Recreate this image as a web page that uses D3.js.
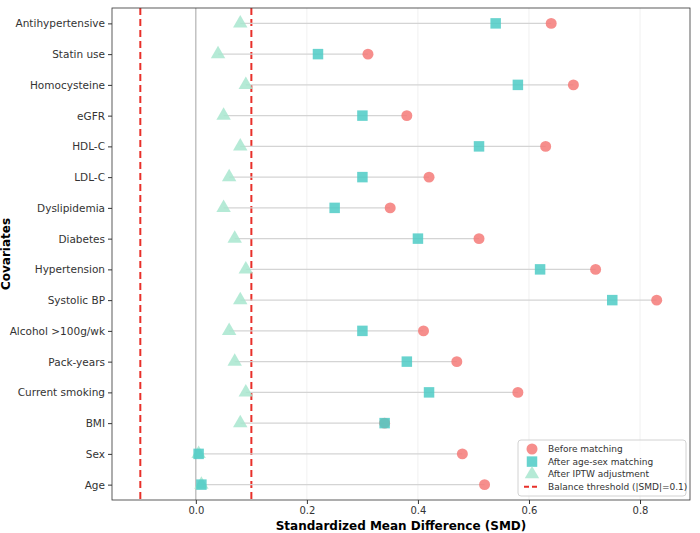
<!DOCTYPE html>
<html lang="en">
<head>
<meta charset="UTF-8">
<script src="https://d3js.org/d3.v7.min.js"></script>
<style>
  body { margin: 0; background: #fff; font-family: 'DejaVu Sans', sans-serif; }
</style>
</head>
<body>
<div id="chart"></div>
<script>
  // Data
  const covariates = ["Antihypertensive", "Statin use", "Homocysteine", "eGFR", "HDL-C", "LDL-C",
    "Dyslipidemia", "Diabetes", "Hypertension", "Systolic BP", "Alcohol >100g/wk", "Pack-years",
    "Current smoking", "BMI", "Sex", "Age"];
  const beforeMatching = [0.64, 0.31, 0.68, 0.38, 0.63, 0.42, 0.35, 0.51, 0.72, 0.83, 0.41, 0.47, 0.58, 0.34, 0.48, 0.52];
  const afterAgeSex   = [0.54, 0.22, 0.58, 0.30, 0.51, 0.30, 0.25, 0.40, 0.62, 0.75, 0.30, 0.38, 0.42, 0.34, 0.005, 0.01];
  const afterIPTW     = [0.08, 0.04, 0.09, 0.05, 0.08, 0.06, 0.05, 0.07, 0.09, 0.08, 0.06, 0.07, 0.09, 0.08, 0.005, 0.01];
  const xTicks = [0.0, 0.2, 0.4, 0.6, 0.8];
  const threshold = 0.1;

  const W = 700, H = 533;
  const margin = { top: 8, right: 10, bottom: 33, left: 112 };
  const width = W - margin.left - margin.right;
  const height = H - margin.top - margin.bottom;

  const svg = d3.select("#chart").append("svg").attr("width", W).attr("height", H);
  const g = svg.append("g").attr("transform", `translate(${margin.left},${margin.top})`);

  const x = d3.scaleLinear().domain([-0.151, 0.89]).range([0, width]);
  const y = d3.scalePoint().domain(covariates).range([0, height]).padding(0.5);

  // vertical grid
  g.selectAll(".grid").data(xTicks).enter().append("line")
    .attr("x1", d => x(d)).attr("x2", d => x(d)).attr("y1", 0).attr("y2", height)
    .attr("stroke", "#ececec").attr("stroke-width", 0.8);

  // zero line
  g.append("line").attr("x1", x(0)).attr("x2", x(0)).attr("y1", 0).attr("y2", height)
    .attr("stroke", "#aaa").attr("stroke-width", 1);

  // thresholds
  [-threshold, threshold].forEach(t => {
    g.append("line").attr("x1", x(t)).attr("x2", x(t)).attr("y1", 0).attr("y2", height)
      .attr("stroke", "#e8302a").attr("stroke-width", 2).attr("stroke-dasharray", "7,4");
  });

  // connecting lines
  covariates.forEach((c, i) => {
    const vals = [beforeMatching[i], afterAgeSex[i], afterIPTW[i]];
    g.append("line").attr("x1", x(d3.min(vals))).attr("x2", x(d3.max(vals)))
      .attr("y1", y(c)).attr("y2", y(c)).attr("stroke", "#d4d4d4").attr("stroke-width", 1.2);
  });

  const cBefore = "#f47a78", cSq = "#4ecbc6", cTri = "#a8e6cf";
  const circ = d3.symbol().type(d3.symbolCircle).size(95);
  const sq = d3.symbol().type(d3.symbolSquare).size(110);
  const tri = d3.symbol().type(d3.symbolTriangle).size(90);

  function drawSeries(vals, sym, color) {
    g.selectAll(null).data(covariates).enter().append("path")
      .attr("d", sym)
      .attr("transform", (d, i) => `translate(${x(vals[i])},${y(d)})`)
      .attr("fill", color).attr("opacity", 0.85);
  }
  drawSeries(afterIPTW, tri, cTri);
  drawSeries(beforeMatching, circ, cBefore);
  drawSeries(afterAgeSex, sq, cSq);

  // frame
  g.append("rect").attr("width", width).attr("height", height)
    .attr("fill", "none").attr("stroke", "#333").attr("stroke-width", 0.8);

  // axes
  const xAxis = g.append("g").attr("transform", `translate(0,${height})`)
    .call(d3.axisBottom(x).tickValues(xTicks).tickFormat(d3.format(".1f")).tickSize(4));
  const yAxis = g.append("g").call(d3.axisLeft(y).tickSize(4));
  [xAxis, yAxis].forEach(a => {
    a.select(".domain").remove();
    a.selectAll("text").attr("font-size", 10.5).attr("fill", "#333").attr("font-family", "DejaVu Sans");
    a.selectAll("line").attr("stroke", "#333");
  });
  xAxis.selectAll("text").attr("font-size", 10);

  svg.append("text").attr("x", margin.left + width / 2).attr("y", H - 3)
    .attr("text-anchor", "middle").attr("font-size", 12).attr("font-weight", "bold")
    .text("Standardized Mean Difference (SMD)");
  svg.append("text").attr("transform", `translate(10,${margin.top + height / 2}) rotate(-90)`)
    .attr("text-anchor", "middle").attr("font-size", 12).attr("font-weight", "bold")
    .text("Covariates");

  // legend
  const legend = g.append("g").attr("transform", `translate(${width - 172},${height - 60})`);
  legend.append("rect").attr("width", 168).attr("height", 56).attr("rx", 3)
    .attr("fill", "#fff").attr("opacity", 0.85).attr("stroke", "#ccc");
  const items = [
    { label: "Before matching", sym: circ, color: cBefore },
    { label: "After age-sex matching", sym: sq, color: cSq },
    { label: "After IPTW adjustment", sym: tri, color: cTri },
    { label: "Balance threshold (|SMD|=0.1)", line: true }
  ];
  items.forEach((it, i) => {
    const row = legend.append("g").attr("transform", `translate(14,${9 + i * 12.6})`);
    if (it.line) {
      row.append("line").attr("x1", -8).attr("x2", 8).attr("stroke", "#e8302a")
        .attr("stroke-width", 2).attr("stroke-dasharray", "5,3");
    } else {
      row.append("path").attr("d", it.sym).attr("fill", it.color).attr("opacity", 0.85);
    }
    row.append("text").attr("x", 16).attr("dy", "0.35em").attr("font-size", 9).attr("fill", "#333").text(it.label);
  });
</script>
</body>
</html>
